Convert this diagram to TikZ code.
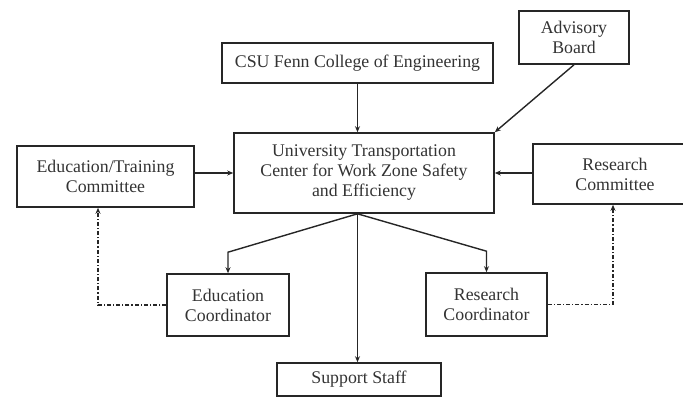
\documentclass[tikz,border=0pt]{standalone}
\usepackage{fontspec}
\setmainfont{Liberation Serif}
\usetikzlibrary{arrows.meta,calc}
\begin{document}
\begin{tikzpicture}[x=1pt,y=-1pt,
  box/.style={draw=black!85,line width=1.6pt,inner sep=0pt,align=center,font=\fontsize{17.8}{20}\selectfont,text=black!80},
  arr/.style={draw=black!85,line width=1.4pt,-{Stealth[length=6pt,width=5pt]}},
  dasharr/.style={draw=black!85,line width=1.3pt,dash pattern=on 4pt off 2pt on 1.2pt off 2pt,-{Stealth[length=6pt,width=5pt]}}]
\useasboundingbox (0,0) rectangle (683,398);
\node[box,minimum width=271pt,minimum height=40pt] (csu) at (357.5,63) {CSU Fenn College of Engineering};
\node[box,minimum width=110pt,minimum height=53pt] (adv) at (574,37.5) {Advisory\\Board};
\node[box,minimum width=260pt,minimum height=80pt] (main) at (364,173) {University Transportation\\Center for Work Zone Safety\\and Efficiency};
\node[box,minimum width=177pt,minimum height=61pt] (edut) at (105.5,176.5) {Education/Training\\Committee};
\node[box,minimum width=164pt,minimum height=60pt] (rcom) at (615,174) {Research\\Committee};
\node[box,minimum width=122pt,minimum height=62pt] (educ) at (228,305) {Education\\Coordinator};
\node[box,minimum width=121pt,minimum height=63pt] (resc) at (486.5,304.5) {Research\\Coordinator};
\node[box,minimum width=164pt,minimum height=33pt] (sup) at (359,379.5) {Support Staff};
\coordinate (hub) at (csu.south |- main.south);
\draw[arr] (csu.south) -- (csu.south |- main.north);
\draw[arr] (adv.south) -- (main.north east);
\draw[arr] (edut.east |- main.west) -- (main.west);
\draw[arr] (rcom.west |- main.east) -- (main.east);
\draw[arr] (hub) -- (hub |- sup.north);
\draw[arr] (hub) -- ([yshift=21pt]educ.north) -- (educ.north);
\draw[arr] (hub) -- ([yshift=21pt]resc.north) -- (resc.north);
\draw[dasharr] (educ.west) -| ([xshift=-7.5pt]edut.south);
\draw[dasharr] (resc.east) -| ([xshift=-2pt]rcom.south);
\end{tikzpicture}
\end{document}
